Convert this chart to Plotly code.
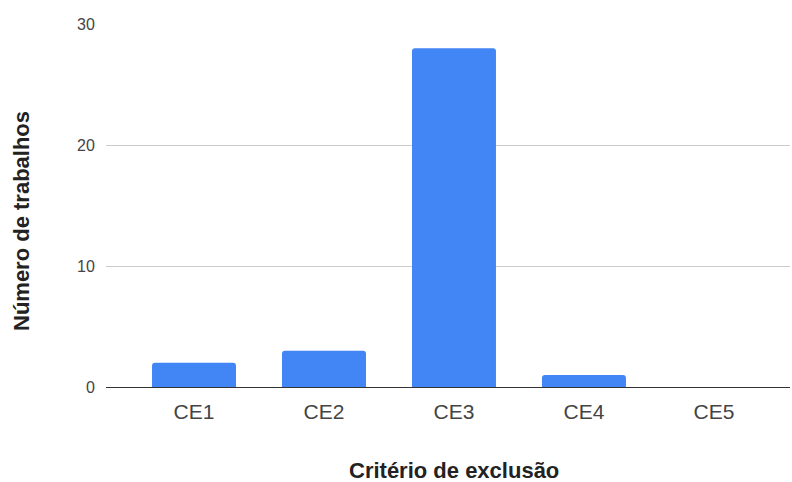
import plotly.graph_objects as go

categories = ["CE1", "CE2", "CE3", "CE4", "CE5"]
values = [2, 3, 28, 1, 0]
y_ticks = [0, 10, 20, 30]
x_title = "Critério de exclusão"
y_title = "Número de trabalhos"

fig = go.Figure(go.Bar(
    x=categories, y=values,
    marker=dict(color="#4285F4", cornerradius=3, line=dict(width=0)),
))

PLOT_L, PLOT_R, PLOT_T, PLOT_B = 106, 790, 24, 387
W, H = 792, 482
pw, ph = PLOT_R - PLOT_L, PLOT_B - PLOT_T
title_font = dict(size=22, color="#222", family="Liberation Sans, Arial, sans-serif", weight="bold")

fig.update_layout(
    width=W, height=H,
    margin=dict(l=PLOT_L, r=W - PLOT_R, t=PLOT_T, b=H - PLOT_B),
    paper_bgcolor="white", plot_bgcolor="white",
    bargap=0.354,
    showlegend=False,
    font=dict(family="Liberation Sans, Arial, sans-serif", color="#444"),
    annotations=[
        dict(text=x_title, xref="x", x=2, yref="paper", y=-(470 - PLOT_B) / ph,
             xanchor="center", yanchor="middle", showarrow=False, font=title_font, borderpad=0),
        dict(text=y_title, xref="paper", x=(21 - PLOT_L) / pw, yref="paper", y=(PLOT_B - 221) / ph,
             xanchor="center", yanchor="middle", textangle=-90, showarrow=False, font=title_font, borderpad=0),
    ],
)
fig.update_xaxes(
    type="category",
    range=[-0.677, 4.585],
    showgrid=False, showline=False, zeroline=False,
    ticks="outside", ticklen=6, tickcolor="rgba(0,0,0,0)",
    tickfont=dict(size=21, color="#444"),
    automargin=False,
)
fig.update_yaxes(
    range=[0, 30], tickvals=y_ticks,
    showgrid=True, gridcolor="#cccccc", gridwidth=1,
    zeroline=True, zerolinecolor="#333333", zerolinewidth=1,
    showline=False,
    ticks="outside", ticklen=7, tickcolor="rgba(0,0,0,0)",
    tickfont=dict(size=16, color="#444"),
    automargin=False,
)

fig.write_html("out.html")
